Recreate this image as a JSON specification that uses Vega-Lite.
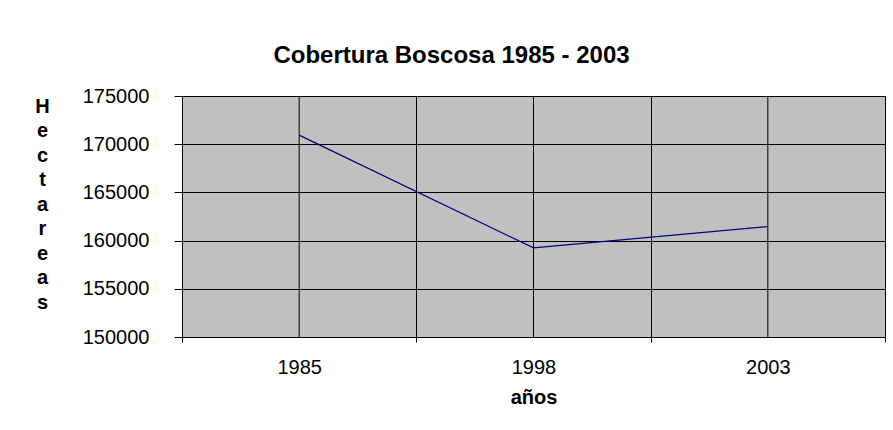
{
  "$schema": "https://vega.github.io/schema/vega-lite/v6.json",
  "width": 703,
  "height": 241,
  "autosize": {"type": "none"},
  "padding": {"left": 182, "top": 96, "right": 8, "bottom": 93},
  "background": "white",
  "config": {
    "font": "Liberation Sans",
    "view": {"fill": "#C0C0C0", "stroke": "#808080", "strokeWidth": 1}
  },
  "title": {
    "text": "Cobertura Boscosa 1985 - 2003",
    "font": "Liberation Sans",
    "fontSize": 24,
    "fontWeight": "bold",
    "color": "black",
    "anchor": "middle",
    "baseline": "alphabetic",
    "dx": -82,
    "dy": 21,
    "offset": 20
  },
  "data": {
    "values": [
      {"year": "1985", "hectareas": 170950},
      {"year": "1998", "hectareas": 159240},
      {"year": "2003", "hectareas": 161450}
    ]
  },
  "encoding": {
    "x": {
      "field": "year",
      "type": "ordinal",
      "scale": {"type": "band", "paddingInner": 0, "paddingOuter": 0},
      "axis": {
        "tickBand": "extent",
        "labelAngle": 0,
        "labelFontSize": 20,
        "labelColor": "black",
        "labelPadding": 15.5,
        "tickSize": 5,
        "tickColor": "black",
        "domainColor": "black",
        "grid": true,
        "gridColor": "black",
        "gridOpacity": 1,
        "title": "años",
        "titleFontSize": 20,
        "titleFontWeight": "bold",
        "titleColor": "black",
        "titleBaseline": "alphabetic",
        "titleY": 66
      }
    }
  },
  "layer": [
    {
      "mark": {"type": "rule", "color": "black", "strokeWidth": 1},
      "encoding": {}
    },
    {
      "mark": {"type": "line", "color": "#000080", "strokeWidth": 1.3},
      "encoding": {
        "y": {
          "field": "hectareas",
          "type": "quantitative",
          "scale": {"domain": [150000, 175000], "zero": false, "nice": false},
          "axis": {
            "values": [150000, 155000, 160000, 165000, 170000, 175000],
            "format": "d",
            "labelFontSize": 20,
            "labelColor": "black",
            "labelPadding": 25,
            "tickSize": 8,
            "tickColor": "black",
            "domainColor": "black",
            "grid": true,
            "gridColor": "black",
            "gridOpacity": 1,
            "title": ["H", "e", "c", "t", "a", "r", "e", "a", "s"],
            "titleFontSize": 20,
            "titleFontWeight": "bold",
            "titleColor": "black",
            "titleAngle": 0,
            "titleAlign": "center",
            "titleBaseline": "alphabetic",
            "titleX": -140,
            "titleY": 16,
            "titleLineHeight": 24.5
          }
        }
      }
    }
  ]
}
